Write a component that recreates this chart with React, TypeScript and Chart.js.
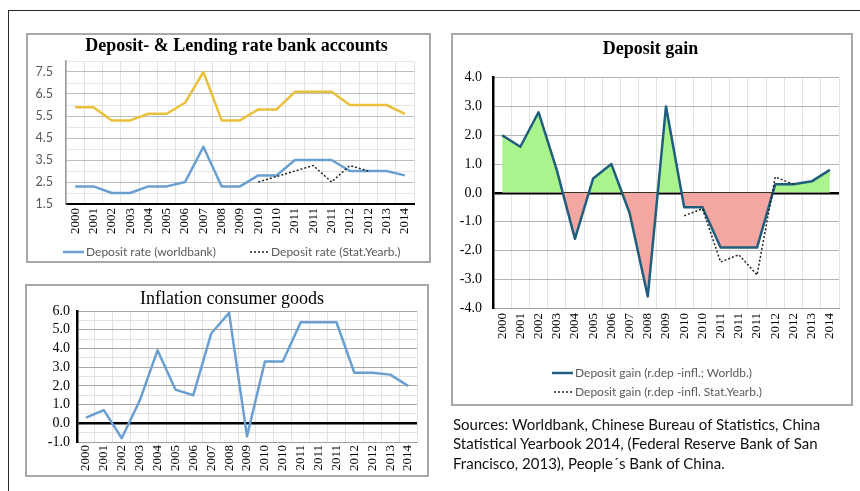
import React, { useEffect, useRef } from 'react';
import { Chart, registerables } from 'chart.js';

Chart.register(...registerables);

// category labels shared by all three charts (the source repeats some years)
const years = ['2000', '2001', '2002', '2003', '2004', '2005', '2006', '2007', '2008', '2009',
  '2010', '2010', '2011', '2011', '2011', '2012', '2012', '2013', '2014'];

const lendingRate = [5.9, 5.9, 5.3, 5.3, 5.6, 5.6, 6.1, 7.5, 5.3, 5.3, 5.8, 5.8, 6.6, 6.6, 6.6, 6.0, 6.0, 6.0, 5.6];
const depositRateWorldbank = [2.3, 2.3, 2.0, 2.0, 2.3, 2.3, 2.5, 4.1, 2.3, 2.3, 2.8, 2.8, 3.5, 3.5, 3.5, 3.0, 3.0, 3.0, 2.8];
const depositRateStatYearb = [null, null, null, null, null, null, null, null, null, null,
  2.5, 2.75, 3.0, 3.25, 2.5, 3.25, 3.0, null, null];

const inflation = [0.3, 0.7, -0.8, 1.2, 3.9, 1.8, 1.5, 4.8, 5.9, -0.7, 3.3, 3.3, 5.4, 5.4, 5.4, 2.7, 2.7, 2.6, 2.0];

const gainWorldbank = [2.0, 1.6, 2.8, 0.8, -1.6, 0.5, 1.0, -0.7, -3.6, 3.0, -0.5, -0.5, -1.9, -1.9, -1.9, 0.3, 0.3, 0.4, 0.8];
const gainStatYearb = [null, null, null, null, null, null, null, null, null, null,
  -0.8, -0.55, -2.4, -2.15, -2.85, 0.55, 0.3, null, null];

const SERIF = "'Liberation Serif', 'Times New Roman', serif";
const SANS = "Lato, 'Open Sans', sans-serif";
const BLUE = '#6a9fd2';
const GOLD = '#e9c13b';
const TEAL = '#1f5e7c';

const xAxis = (pad: number, h: number, borderColor: string, borderWidth: number) => ({
  offset: true,
  grid: { offset: true, color: '#e2e2e2', lineWidth: 1, drawTicks: false },
  border: { color: borderColor, width: borderWidth },
  ticks: {
    autoSkip: false, minRotation: 90, maxRotation: 90, padding: pad,
    color: '#000', font: { family: SERIF, size: 13 },
  },
  afterFit: (s: any) => { s.height = h; },
});

const line = (label: string, data: (number | null)[], color: string, extra: any = {}) => ({
  label, data, borderColor: color, backgroundColor: color, borderWidth: 2.5,
  pointRadius: 0, borderJoinStyle: 'round', fill: false, tension: 0, ...extra,
});

const dotted = (label: string, data: (number | null)[]) =>
  line(label, data, '#222', { borderWidth: 1.5, borderDash: [2, 2], borderJoinStyle: 'miter' });

const baseOptions = (padding: any) => ({
  responsive: false,
  animation: false,
  events: [],
  layout: { padding },
  plugins: { legend: { display: false }, tooltip: { enabled: false } },
});

const ratesConfig = () => ({
  type: 'line',
  data: {
    labels: years,
    datasets: [
      dotted('Deposit rate (Stat.Yearb.)', depositRateStatYearb),
      line('Deposit rate (worldbank)', depositRateWorldbank, BLUE),
      line('Lending rate', lendingRate, GOLD),
    ],
  },
  options: {
    ...baseOptions({ left: 0, right: 17, top: 28, bottom: 29 }),
    scales: {
      x: xAxis(4, 30, '#000', 2),
      y: {
        min: 1.5, max: 8,
        grid: {
          drawTicks: false,
          color: (c: any) => (Math.abs(((c.tick?.value ?? 0) - 1.5) % 1) < 1e-6 ? '#bdbdbd' : '#e6e6e6'),
        },
        border: { color: '#9a9a9a', width: 1.5 },
        ticks: {
          stepSize: 0.5, autoSkip: false, padding: 13, color: '#595959',
          font: { family: SANS, size: 12.5 },
          callback: (v: any) => {
            const n = Number(v);
            return Math.abs((n - 1.5) % 1) < 1e-6 && n <= 7.5 ? n.toFixed(1) : '';
          },
        },
        afterFit: (s: any) => { s.width = 40; },
      },
    },
  },
});

const inflationConfig = () => ({
  type: 'line',
  data: {
    labels: years,
    datasets: [line('Inflation consumer goods', inflation, BLUE)],
  },
  options: {
    ...baseOptions({ left: 0, right: 12, top: 27, bottom: 5 }),
    scales: {
      x: xAxis(3, 30, '#a0a0a0', 1),
      y: {
        min: -1, max: 6,
        grid: {
          drawTicks: false,
          color: (c: any) => {
            const v = c.tick?.value ?? 0;
            if (v === 0) return '#000';
            return Number.isInteger(v) ? '#a8a8a8' : '#e0e0e0';
          },
          lineWidth: (c: any) => ((c.tick?.value ?? 1) === 0 ? 2.5 : 1),
        },
        border: { color: '#000', width: 2.5 },
        ticks: {
          stepSize: 0.5, autoSkip: false, padding: 7, color: '#000',
          font: { family: SERIF, size: 14 },
          callback: (v: any) => (Number.isInteger(Number(v)) ? Number(v).toFixed(1) : ''),
        },
        afterFit: (s: any) => { s.width = 52; },
      },
    },
  },
});

const gainConfig = () => ({
  type: 'line',
  data: {
    labels: years,
    datasets: [
      dotted('Deposit gain (r.dep -infl. Stat.Yearb.)', gainStatYearb),
      line('Deposit gain (r.dep -infl.; Worldb.)', gainWorldbank, TEAL, {
        fill: { target: 'origin', above: '#aaf48e', below: '#f4a6a2' },
      }),
    ],
  },
  options: {
    ...baseOptions({ left: 0, right: 14, top: 44.7, bottom: 63 }),
    scales: {
      x: xAxis(5, 35, '#a0a0a0', 1),
      y: {
        min: -4, max: 4,
        grid: {
          drawTicks: false,
          color: (c: any) => ((c.tick?.value ?? 1) === 0 ? '#000' : '#b5b5b5'),
          lineWidth: (c: any) => ((c.tick?.value ?? 1) === 0 ? 2.5 : 1),
        },
        border: { color: '#000', width: 2.5 },
        ticks: {
          stepSize: 1, autoSkip: false, padding: 11, color: '#000',
          font: { family: SERIF, size: 14 },
          callback: (v: any) => Number(v).toFixed(1),
        },
        afterFit: (s: any) => { s.width = 42; },
      },
    },
  },
});

interface PanelProps {
  left: number;
  top: number;
  width: number;
  height: number;
  make: () => any;
}

const ChartPanel: React.FC<PanelProps> = ({ left, top, width, height, make }) => {
  const canvasRef = useRef<HTMLCanvasElement>(null);

  useEffect(() => {
    if (!canvasRef.current) return;
    const chart = new Chart(canvasRef.current, make());
    return () => chart.destroy();
  }, []);

  return (
    <>
      <canvas ref={canvasRef} width={width} height={height}
        style={{ position: 'absolute', left, top, width, height }} />
      <div style={{
        position: 'absolute', left, top, width, height, boxSizing: 'border-box',
        border: '2px solid #a8a8a8', pointerEvents: 'none',
      }} />
    </>
  );
};

const Title: React.FC<{ cx: number; top: number; bold?: boolean; text: string }> = ({ cx, top, bold, text }) => (
  <div style={{
    position: 'absolute', left: cx - 200, top, width: 400, textAlign: 'center', whiteSpace: 'nowrap',
    fontFamily: SERIF, fontSize: 18, lineHeight: '22px', fontWeight: bold ? 'bold' : 'normal', color: '#000',
  }}>{text}</div>
);

const LegendItem: React.FC<{ x: number; y: number; w: number; color: string; dashed?: boolean; text: string }> =
  ({ x, y, w, color, dashed, text }) => (
    <div style={{
      position: 'absolute', left: x, top: y - 7, height: 14, display: 'flex', alignItems: 'center',
      whiteSpace: 'nowrap', fontFamily: SANS, fontSize: 12, color: '#595959', lineHeight: '14px',
    }}>
      <svg width={w} height={6} style={{ marginRight: 2 }}>
        <line x1={0} y1={3} x2={w} y2={3} stroke={color} strokeWidth={dashed ? 1.5 : 2.5}
          strokeDasharray={dashed ? '2 2' : undefined} />
      </svg>
      <span>{text}</span>
    </div>
  );

const App: React.FC = () => (
  <div style={{ position: 'absolute', left: 0, top: 0, width: 860, height: 491, background: '#fff', overflow: 'hidden' }}>
    <div style={{ position: 'absolute', left: 8, top: 10, width: 852, height: 1, background: '#2a2a2a' }} />
    <div style={{ position: 'absolute', left: 8, top: 10, width: 1, height: 481, background: '#2a2a2a' }} />

    <ChartPanel left={26} top={33} width={405} height={230} make={ratesConfig} />
    <Title cx={236.5} top={33.6} bold text="Deposit- & Lending rate bank accounts" />
    <LegendItem x={63} y={252} w={21} color={BLUE} text="Deposit rate (worldbank)" />
    <LegendItem x={250} y={252} w={19} color="#222" dashed text="Deposit rate (Stat.Yearb.)" />

    <ChartPanel left={25} top={284} width={404} height={193} make={inflationConfig} />
    <Title cx={232} top={287} text="Inflation consumer goods" />

    <ChartPanel left={451} top={33} width={402} height={373} make={gainConfig} />
    <Title cx={650.5} top={37.2} bold text="Deposit gain" />
    <LegendItem x={552} y={373} w={21} color={TEAL} text="Deposit gain (r.dep -infl.; Worldb.)" />
    <LegendItem x={554} y={392} w={19} color="#222" dashed text="Deposit gain (r.dep -infl. Stat.Yearb.)" />

    <div style={{
      position: 'absolute', left: 453, top: 414.5, width: 400, fontFamily: SANS, fontSize: 15,
      lineHeight: '19.5px', color: '#111',
    }}>
      Sources: Worldbank, Chinese Bureau of Statistics, China<br />
      Statistical Yearbook 2014, (Federal Reserve Bank of San<br />
      Francisco, 2013), People´s Bank of China.
    </div>
  </div>
);

export default App;
